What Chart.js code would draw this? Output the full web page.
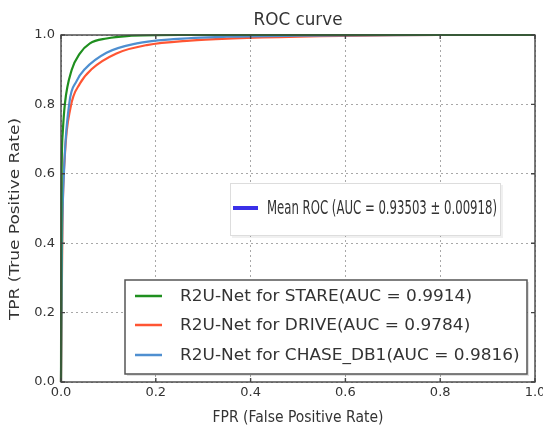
<!DOCTYPE html>
<html>
<head>
<meta charset="utf-8">
<script src="https://cdn.jsdelivr.net/npm/chart.js@4.4.1/dist/chart.umd.min.js"></script>
<style>
  html, body { margin: 0; padding: 0; background: #fff; }
  canvas { display: block; }
</style>
</head>
<body>
<canvas id="roc" width="543" height="428"></canvas>
<script>
// ROC points (FPR, TPR)
const fprStare = [0, 0.001, 0.0036, 0.0084, 0.0225, 0.040, 0.061, 0.096, 0.139, 0.25, 0.5, 1.0];
const tprStare = [0, 0.55, 0.717, 0.804, 0.899, 0.947, 0.976, 0.990, 0.997, 1.0, 1.0, 1.0];

const fprDrive = [0, 0.003, 0.008, 0.02, 0.04, 0.065, 0.117, 0.181, 0.272, 0.363, 0.5, 0.8, 1.0];
const tprDrive = [0, 0.45, 0.65, 0.79, 0.86, 0.902, 0.947, 0.971, 0.984, 0.990, 0.995, 1.0, 1.0];

const fprChase = [0, 0.002, 0.0063, 0.0176, 0.032, 0.0506, 0.096, 0.160, 0.237, 0.35, 0.5, 0.8, 1.0];
const tprChase = [0, 0.38, 0.605, 0.804, 0.865, 0.902, 0.949, 0.976, 0.988, 0.995, 0.998, 1.0, 1.0];

const seriesLabels = [
  "R2U-Net for STARE(AUC = 0.9914)",
  "R2U-Net for DRIVE(AUC = 0.9784)",
  "R2U-Net for CHASE_DB1(AUC = 0.9816)"
];
const seriesColors = ["#1f8f1f", "#ff5533", "#4f8fd0"];
const meanLabel = "Mean ROC (AUC = 0.93503 \u00b1 0.00918)";
const meanColor = "#3a30e8";
const tickValues = [0, 0.2, 0.4, 0.6, 0.8, 1.0];

const toPoints = (xs, ys) => xs.map((x, i) => ({ x: x, y: ys[i] }));

// draw text squeezed/stretched horizontally to a given width
function fitText(ctx, text, x, y, font, width, align, color) {
  ctx.save();
  ctx.font = font;
  const sx = width / ctx.measureText(text).width;
  ctx.translate(x, y);
  ctx.scale(sx, 1);
  ctx.textAlign = align;
  ctx.textBaseline = "middle";
  ctx.fillStyle = color;
  ctx.fillText(text, 0, 0);
  ctx.restore();
}

const framePlugin = {
  id: "frame",
  afterDatasetsDraw(chart) {
    const ctx = chart.ctx;
    const a = chart.chartArea;
    const xs = chart.scales.x, ys = chart.scales.y;
    ctx.save();
    ctx.strokeStyle = "#444";
    ctx.lineWidth = 1.4;
    ctx.strokeRect(a.left, a.top, a.right - a.left, a.bottom - a.top);
    ctx.beginPath();
    tickValues.forEach((v) => {
      const px = xs.getPixelForValue(v);
      ctx.moveTo(px, a.bottom); ctx.lineTo(px, a.bottom - 4);
      ctx.moveTo(px, a.top); ctx.lineTo(px, a.top + 4);
      const py = ys.getPixelForValue(v);
      ctx.moveTo(a.left, py); ctx.lineTo(a.left + 4, py);
      ctx.moveTo(a.right, py); ctx.lineTo(a.right - 4, py);
    });
    ctx.stroke();
    ctx.restore();
  },
  afterDraw(chart) {
    const ctx = chart.ctx;
    const a = chart.chartArea;
    const cx = (a.left + a.right) / 2;

    // title and axis titles
    fitText(ctx, "ROC curve", cx, 20, "18px 'DejaVu Sans'", 89, "center", "#333");
    fitText(ctx, "FPR (False Positive Rate)", cx, 418, "15px 'DejaVu Sans'", 171, "center", "#333");
    ctx.save();
    ctx.translate(15, 219);
    ctx.rotate(-Math.PI / 2);
    fitText(ctx, "TPR (True Positive Rate)", 0, 0, "14px 'DejaVu Sans'", 202, "center", "#333");
    ctx.restore();

    // mean ROC box
    ctx.save();
    ctx.fillStyle = "rgba(0,0,0,0.06)";
    ctx.fillRect(232, 185, 271, 53);
    ctx.fillStyle = "#fff";
    ctx.fillRect(230, 183, 270, 52);
    ctx.strokeStyle = "#ddd";
    ctx.lineWidth = 1;
    ctx.strokeRect(230.5, 183.5, 270, 52);
    ctx.strokeStyle = meanColor;
    ctx.lineWidth = 4;
    ctx.beginPath();
    ctx.moveTo(233, 208); ctx.lineTo(258, 208);
    ctx.stroke();
    ctx.restore();
    fitText(ctx, meanLabel, 267, 209, "20px 'DejaVu Sans Condensed', 'DejaVu Sans'", 230, "left", "#333");

    // series legend box
    ctx.save();
    ctx.fillStyle = "rgba(0,0,0,0.12)";
    ctx.fillRect(127, 282, 402, 94);
    ctx.fillStyle = "#fff";
    ctx.fillRect(125, 280, 402, 94);
    ctx.strokeStyle = "#555";
    ctx.lineWidth = 1.5;
    ctx.strokeRect(125, 280, 402, 94);
    ctx.font = "16px 'DejaVu Sans'";
    const sx = 292 / ctx.measureText(seriesLabels[0]).width;
    const rows = [296, 325, 355];
    seriesLabels.forEach((label, i) => {
      ctx.strokeStyle = seriesColors[i];
      ctx.lineWidth = 2.5;
      ctx.beginPath();
      ctx.moveTo(135, rows[i]); ctx.lineTo(162, rows[i]);
      ctx.stroke();
      ctx.font = "16px 'DejaVu Sans'";
      const w = ctx.measureText(label).width * sx;
      fitText(ctx, label, 180, rows[i] + 1, "16px 'DejaVu Sans'", w, "left", "#333");
    });
    ctx.restore();
  }
};

const lineSet = (label, pts, color, order) => ({
  label: label,
  data: pts,
  borderColor: color,
  backgroundColor: color,
  borderWidth: 2.2,
  pointRadius: 0,
  showLine: true,
  cubicInterpolationMode: "monotone",
  clip: false,
  order: order
});

const ctx = document.getElementById("roc").getContext("2d");
new Chart(ctx, {
  type: "scatter",
  data: {
    datasets: [
      lineSet(seriesLabels[0], toPoints(fprStare, tprStare), seriesColors[0], 0),
      lineSet(seriesLabels[2], toPoints(fprChase, tprChase), seriesColors[2], 1),
      lineSet(seriesLabels[1], toPoints(fprDrive, tprDrive), seriesColors[1], 2)
    ]
  },
  options: {
    responsive: false,
    animation: false,
    devicePixelRatio: 1,
    layout: { padding: { top: 35, right: 8, bottom: 0, left: 0 } },
    plugins: {
      legend: { display: false },
      tooltip: { enabled: false },
      title: { display: false }
    },
    scales: {
      x: {
        type: "linear",
        min: 0,
        max: 1,
        afterFit: (s) => { s.height = 46; s.paddingLeft = 0; s.paddingRight = 0; },
        afterBuildTicks: (s) => { s.ticks = tickValues.map((v) => ({ value: v })); },
        ticks: {
          padding: 3,
          color: "#333",
          font: { family: "DejaVu Sans", size: 13 },
          callback: (v) => Number(v).toFixed(1)
        },
        grid: { color: "#a8a8a8", lineWidth: 1, drawTicks: false },
        border: { display: false, dash: [2, 3] }
      },
      y: {
        type: "linear",
        min: 0,
        max: 1,
        afterFit: (s) => { s.width = 61; s.paddingTop = 0; s.paddingBottom = 0; },
        afterBuildTicks: (s) => { s.ticks = tickValues.map((v) => ({ value: v })); },
        ticks: {
          padding: 6,
          color: "#333",
          font: { family: "DejaVu Sans", size: 13 },
          callback: (v) => Number(v).toFixed(1)
        },
        grid: { color: "#a8a8a8", lineWidth: 1, drawTicks: false },
        border: { display: false, dash: [2, 3] }
      }
    }
  },
  plugins: [framePlugin]
});
</script>
</body>
</html>
